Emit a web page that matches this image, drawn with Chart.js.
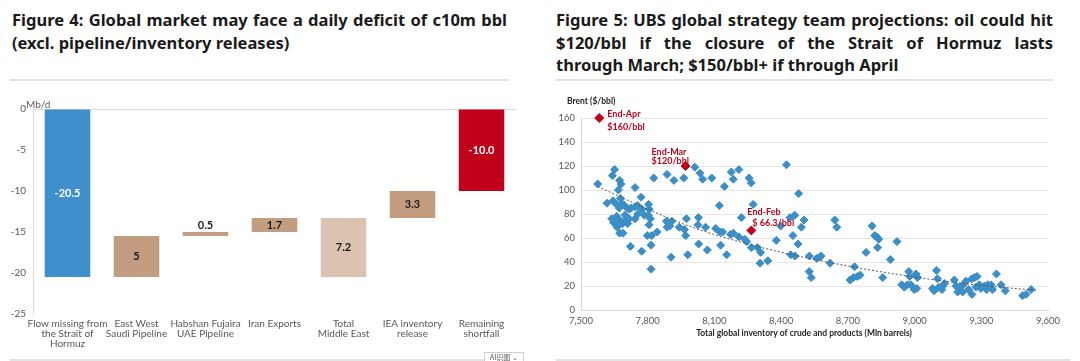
<!DOCTYPE html>
<html>
<head>
<meta charset="utf-8">
<script src="https://cdn.jsdelivr.net/npm/chart.js@4.4.1/dist/chart.umd.min.js"></script>
<style>
  body { margin: 0; background: #fff; width: 1080px; height: 361px; overflow: hidden; position: relative; font-family: "Noto Sans", sans-serif; }
  .title { position: absolute; font-weight: bold; font-size: 16.5px; line-height: 22.5px; color: #1a1a1a; white-space: nowrap; }
  .title div.j { text-align: justify; text-align-last: justify; white-space: normal; }
  .rule { position: absolute; height: 2px; background: #e3e3e3; }
  .box { position: absolute; }
  .ai { position: absolute; left: 484px; top: 352px; width: 38px; height: 9px; border: 1px solid #cfcfcf; border-bottom: none; font-family: "Noto Sans CJK SC", sans-serif; font-size: 7px; line-height: 9px; color: #555; text-align: center; background: #fff; }
</style>
</head>
<body>
<div class="title" style="left:12px; top:9px; width:495px;">
  <div class="j">Figure 4: Global market may face a daily deficit of c10m bbl</div>
  <div>(excl. pipeline/inventory releases)</div>
</div>
<div class="rule" style="left:10px; top:79px; width:498px;"></div>

<div class="title" style="left:556px; top:9px; width:497px;">
  <div class="j">Figure 5: UBS global strategy team projections: oil could hit</div>
  <div class="j">$120/bbl if the closure of the Strait of Hormuz lasts</div>
  <div>through March; $150/bbl+ if through April</div>
</div>
<div class="rule" style="left:556px; top:79px; width:497px;"></div>

<div class="box" style="left:0; top:85px; width:530px; height:276px;"><canvas id="waterfall"></canvas></div>
<div class="box" style="left:540px; top:85px; width:540px; height:276px;"><canvas id="scatter"></canvas></div>

<div class="rule" style="left:10px; top:359px; width:512px;"></div>
<div class="rule" style="left:556px; top:359px; width:514px;"></div>
<div class="ai">AI识图 ⌄</div>

<script>
// Figure 4: waterfall (Mb/d)
const wfCategories = [
    ["Flow missing from", "the Strait of", "Hormuz"],
    ["East West", "Saudi Pipeline"],
    ["Habshan Fujaira", "UAE Pipeline"],
    "Iran Exports",
    ["Total", "Middle East"],
    ["IEA inventory", "release"],
    ["Remaining", "shortfall"]
];
const wfLow = [-20.5, -20.5, -15.5, -15.0, -20.5, -13.3, -10.0];
const wfHigh = [0, -15.5, -15.0, -13.3, -13.3, -10.0, 0];
const wfLabels = ["-20.5", "5", "0.5", "1.7", "7.2", "3.3", "-10.0"];
const wfColors = ["#3e8fcb", "#c29d80", "#c29d80", "#c29d80", "#dcc2b1", "#c29d80", "#c0001b"];

// Figure 5: Brent vs total global inventory
const invX = [
    7575, 7651, 7641, 7674, 7680, 7668, 7617, 7644, 7677, 7660, 7683, 7672, 7696, 7708, 7717, 7726,
    7743, 7755, 7743, 7770, 7774, 7755, 7743, 7804, 7807, 7785, 7803, 7812, 7806, 7827, 7887, 7918,
    7962, 7638, 7646, 7660, 7665, 7672, 7680, 7687, 7698, 7707, 7710, 7717, 7662, 7674, 7689, 7722,
    7773, 7798, 7818, 7843, 7815, 7815, 7884, 7899, 7909, 7887, 7942, 7965, 7974, 7971, 7905, 7980,
    8012, 8035, 8047, 8088, 8176, 8185, 8210, 8256, 8265, 8145, 8424, 8479, 8122, 8274, 8221, 8028,
    8026, 8060, 8106, 8124, 8137, 8173, 8185, 8209, 8236, 8245, 8266, 8293, 8308, 8305, 8340, 8029,
    8068, 8128, 8155, 8378, 8398, 8440, 8461, 8503, 8491, 8453, 8476, 8443, 8463, 8527, 8526, 8535,
    8641, 8650, 8560, 8572, 8580, 8620, 8809, 8821, 8830, 8839, 8834, 8782, 8921, 8891, 8730, 8710,
    8725, 8743, 8755, 8857, 8942, 8954, 8968, 8983, 8974, 8978, 9007, 9013, 9010, 8998,
    9099, 9103, 9081, 9088, 9108, 9126, 9135, 9123, 9179, 9186, 9194, 9201, 9216, 9219, 9231, 9243,
    9257, 9269, 9281, 9258, 9276, 9291, 9298, 9314, 9329, 9324, 9344, 9351, 9368, 9389, 9408, 9486,
    9501, 9524
];
const brentY = [
    105, 117, 112, 108, 105, 100, 89, 91, 93, 88, 89, 85, 87, 85, 84, 85,
    86, 87, 102, 94, 84, 80, 76, 88, 84, 79, 79, 76, 71, 110, 113, 108,
    110, 76, 73, 78, 75, 71, 74, 72, 79, 76, 72, 76, 69, 64, 64, 53,
    49, 62, 62, 65, 54, 34, 74, 70, 74, 69, 69, 67, 76, 62, 44, 46,
    119, 114, 109, 110, 115, 109, 117, 110, 106, 103, 121, 97, 87, 88, 77, 77,
    71, 69, 68, 65, 65, 63, 64, 61, 59, 57, 52, 52, 48, 39, 41, 55,
    50, 54, 46, 58, 70, 77, 79, 75, 69, 62, 55, 46, 45, 45, 32, 27,
    75, 69, 43, 44, 45, 39, 70, 62, 61, 59, 52, 48, 57, 42, 36, 25,
    27, 28, 29, 27, 21, 19, 21, 21, 32, 28, 30, 27, 18, 17,
    33, 26, 18, 16, 19, 20, 22, 17, 25, 20, 15, 19, 15, 21, 24, 17,
    26, 27, 28, 13, 19, 21, 18, 20, 21, 17, 21, 17, 30, 21, 16, 12,
    13, 17
];
const milestoneX = [7582, 7970, 8266];
const milestoneY = [160, 120, 66.3];
const milestoneLabels = [["End-Apr", "$160/bbl"], ["End-Mar", "$120/bbl"], ["End-Feb", "$ 66.3/bbl"]];
const trendX = [7575, 7800, 8000, 8250, 8500, 8750, 9000, 9250, 9546];
const trendY = [103, 84, 69, 55, 44, 35, 27.5, 21.5, 16.4];
const brentTicks = [0, 20, 40, 60, 80, 100, 120, 140, 160];

const tickFont = { family: "Lato, 'Open Sans', sans-serif", size: 10 };
const gray = "#595959";

// waterfall value labels + unit label
const waterfallLabels = {
    id: "waterfallLabels",
    afterDatasetsDraw(chart) {
        let ctx = chart.ctx;
        let meta = chart.getDatasetMeta(0);
        ctx.save();
        ctx.font = "bold 11px Lato, 'Open Sans', sans-serif";
        ctx.textAlign = "center";
        ctx.textBaseline = "middle";
        meta.data.forEach((bar, i) => {
            let top = Math.min(bar.y, bar.base);
            let bottom = Math.max(bar.y, bar.base);
            let y = (top + bottom) / 2;
            if (bottom - top < 12) {
                y = top - 7;
            }
            ctx.fillStyle = (i === 0 || i === 6) ? "#ffffff" : "#1a1a1a";
            ctx.fillText(wfLabels[i], bar.x, y);
        });
        let yScale = chart.scales.y;
        ctx.font = "10px Lato, 'Open Sans', sans-serif";
        ctx.fillStyle = gray;
        ctx.textAlign = "left";
        ctx.fillText("Mb/d", yScale.right - 7, yScale.getPixelForValue(0) - 4);
        ctx.restore();
    }
};

new Chart(document.getElementById("waterfall"), {
    type: "bar",
    data: {
        labels: wfCategories,
        datasets: [{
            data: wfLow.map((v, i) => [v, wfHigh[i]]),
            backgroundColor: wfColors,
            borderSkipped: false,
            barPercentage: 0.66,
            categoryPercentage: 1
        }]
    },
    options: {
        responsive: true,
        maintainAspectRatio: false,
        animation: false,
        layout: { padding: { top: 24, right: 14, left: 0, bottom: 0 } },
        plugins: { legend: { display: false }, tooltip: { enabled: false } },
        scales: {
            x: {
                grid: { display: false, drawTicks: false },
                border: { display: false },
                ticks: { color: gray, font: { ...tickFont, lineHeight: 1 }, padding: 5, maxRotation: 0, autoSkip: false },
                afterFit: s => { s.height = 47; }
            },
            y: {
                min: -25, max: 0,
                ticks: { stepSize: 5, color: gray, font: tickFont, padding: 7 },
                grid: { color: ctx => ctx.tick && ctx.tick.value === 0 ? "#d9d9d9" : "transparent", drawTicks: false },
                border: { display: true, color: "#d9d9d9" },
                afterFit: s => { s.width = 33; }
            }
        }
    },
    plugins: [waterfallLabels]
});

// scatter annotations: milestone labels and axis titles
const scatterLabels = {
    id: "scatterLabels",
    afterDatasetsDraw(chart) {
        let ctx = chart.ctx;
        let xs = chart.scales.x, ys = chart.scales.y;
        // offsets of each label pair from its marker
        let offsets = [[8, -4, 8, 9], [-34, -14, -34, -5], [-4, -18, 1, -7]];
        ctx.save();
        ctx.font = "bold 9px Lato, 'Open Sans', sans-serif";
        ctx.fillStyle = "#c0001b";
        ctx.textBaseline = "middle";
        ctx.textAlign = "left";
        milestoneX.forEach((mx, i) => {
            let px = xs.getPixelForValue(mx);
            let py = ys.getPixelForValue(milestoneY[i]);
            let o = offsets[i];
            ctx.fillText(milestoneLabels[i][0], px + o[0], py + o[1]);
            ctx.fillText(milestoneLabels[i][1], px + o[2], py + o[3]);
        });
        ctx.fillStyle = "#262626";
        ctx.font = "bold 8.5px Lato, 'Open Sans', sans-serif";
        ctx.fillText("Brent ($/bbl)", 27, 16);
        ctx.textAlign = "center";
        ctx.fillText("Total global inventory of crude and products (Mln barrels)", 264, 248);
        ctx.restore();
    }
};

new Chart(document.getElementById("scatter"), {
    type: "scatter",
    data: {
        datasets: [
            {
                data: milestoneX.map((v, i) => ({ x: v, y: milestoneY[i] })),
                pointStyle: "rectRot",
                pointRadius: 4.5,
                backgroundColor: "#c0001b",
                borderColor: "#c0001b",
                clip: false,
                order: 0
            },
            {
                type: "line",
                data: trendX.map((v, i) => ({ x: v, y: trendY[i] })),
                borderColor: "#555555",
                borderWidth: 1,
                borderDash: [2, 2],
                pointRadius: 0,
                cubicInterpolationMode: "monotone",
                fill: false,
                order: 1
            },
            {
                data: invX.map((v, i) => ({ x: v, y: brentY[i] })),
                pointStyle: "rectRot",
                pointRadius: 4,
                backgroundColor: "#3b8ec6",
                borderColor: "#3b8ec6",
                clip: false,
                order: 2
            }
        ]
    },
    options: {
        responsive: true,
        maintainAspectRatio: false,
        animation: false,
        layout: { padding: { top: 33, right: 32, left: 0, bottom: 0 } },
        plugins: { legend: { display: false }, tooltip: { enabled: false } },
        scales: {
            x: {
                type: "linear",
                min: 7500, max: 9600,
                ticks: { stepSize: 300, color: gray, font: { ...tickFont, size: 9.5 }, padding: 5,
                         callback: v => v.toLocaleString("en-US") },
                grid: { display: false, drawTicks: false },
                border: { display: true, color: "#d9d9d9" },
                afterFit: s => { s.height = 51; }
            },
            y: {
                min: 0, max: 160,
                afterBuildTicks: s => { s.ticks = brentTicks.map(v => ({ value: v })); },
                ticks: { autoSkip: false, color: gray, font: { ...tickFont, size: 9.5 }, padding: 6,
                         callback: v => String(v) },
                grid: { color: "#e6e6e6", drawTicks: false },
                border: { display: true, color: "#d9d9d9" },
                afterFit: s => { s.width = 41; }
            }
        }
    },
    plugins: [scatterLabels]
});
</script>
</body>
</html>
